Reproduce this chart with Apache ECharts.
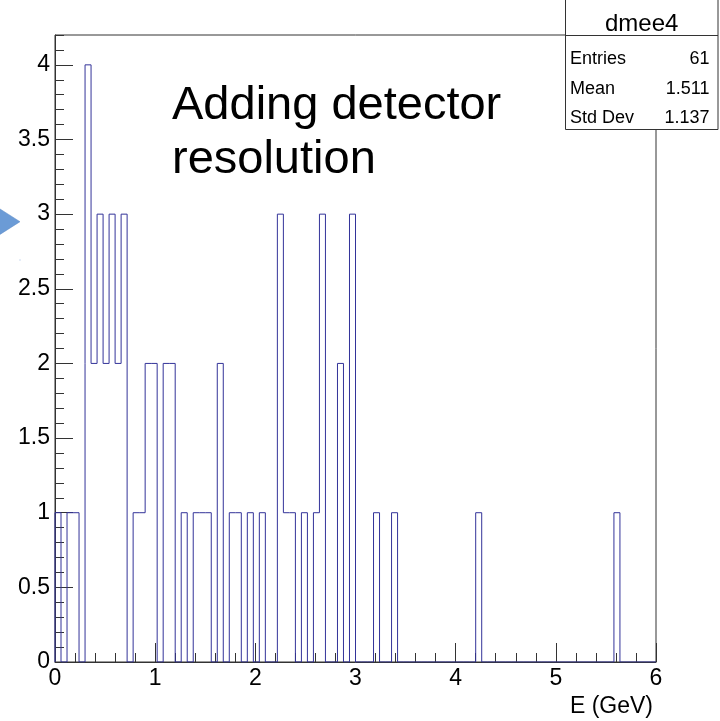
<!DOCTYPE html>
<html>
<head>
<meta charset="utf-8">
<script src="https://cdn.jsdelivr.net/npm/echarts@6/dist/echarts.min.js"></script>
<style>
html,body{margin:0;padding:0;background:#fff;}
#chart{width:720px;height:721px;}
</style>
</head>
<body>
<div id="chart"></div>
<script>
// Histogram "dmee4": 100 bins from 0 to 6 GeV (bin width 0.06)
const binLow = 0;
const binWidth = 0.06;
const counts = [
  1,0,1,1,0,4,2,3,2,3,
  2,3,0,1,1,2,2,0,2,2,
  0,1,0,1,1,1,0,2,0,1,
  1,0,1,0,1,0,0,3,1,1,
  0,1,0,1,3,0,0,2,0,3,
  0,0,0,1,0,0,1,0,0,0,
  0,0,0,0,0,0,0,0,0,0,
  1,0,0,0,0,0,0,0,0,0,
  0,0,0,0,0,0,0,0,0,0,
  0,0,0,1,0,0,0,0,0,0
];
const xTickLabels = ['0','1','2','3','4','5','6'];
const yTickLabels = ['0','0.5','1','1.5','2','2.5','3','3.5','4'];
const statsTitle = 'dmee4';
const statsNames = ['Entries','Mean','Std Dev'];
const statsValues = ['61','1.511','1.137'];
const titleLines = ['Adding detector','resolution'];
const xTitle = 'E (GeV)';

// step outline points
const stepData = [[binLow, 0]];
counts.forEach((c, i) => stepData.push([+(binLow + i * binWidth).toFixed(4), c]));
stepData.push([+(binLow + counts.length * binWidth).toFixed(4), 0]);

const FONT = 'Liberation Sans, Arial, sans-serif';
const axisCol = '#333333';
const chart = echarts.init(document.getElementById('chart'), null, {renderer: 'canvas'});

const option = {
  animation: false,
  backgroundColor: '#ffffff',
  grid: {left: 55, right: 64, top: 35, bottom: 59, show: true, borderColor: axisCol, borderWidth: 1, backgroundColor: 'transparent'},
  xAxis: {
    type: 'value', min: 0, max: 6, interval: 1,
    axisLine: {show: true, lineStyle: {color: axisCol, width: 1}},
    axisTick: {show: true, inside: true, length: 19, lineStyle: {color: axisCol}},
    minorTick: {show: true, splitNumber: 5, length: 9, lineStyle: {color: axisCol}},
    splitLine: {show: false},
    axisLabel: {
      fontFamily: FONT, fontSize: 23, color: '#000', margin: 5,
      formatter: v => { const i = Math.round(v); return Math.abs(v - i) < 1e-6 ? xTickLabels[i] : ''; }
    }
  },
  yAxis: [
    {
      type: 'value', min: 0, max: 4.2, interval: 0.1, position: 'left',
      axisLine: {show: true, lineStyle: {color: axisCol, width: 1}},
      axisTick: {show: true, inside: true, length: 9, lineStyle: {color: axisCol}},
      axisLabel: {show: false},
      splitLine: {show: false}
    },
    {
      type: 'value', min: 0, max: 4.2, interval: 0.5, position: 'left', offset: 0,
      axisLine: {show: false},
      axisTick: {show: true, inside: true, length: 18, lineStyle: {color: axisCol}},
      splitLine: {show: false},
      axisLabel: {
        fontFamily: FONT, fontSize: 23, color: '#000', margin: 5, showMaxLabel: false,
        formatter: v => { const i = Math.round(v * 2); return (Math.abs(v * 2 - i) < 1e-6 && i < yTickLabels.length) ? yTickLabels[i] : ''; }
      }
    }
  ],
  series: [{
    type: 'line', step: 'end', xAxisIndex: 0, yAxisIndex: 0,
    data: stepData, showSymbol: false, symbol: 'none',
    lineStyle: {color: '#333399', width: 1}, z: 3
  }],
  graphic: [
    {type: 'polygon', shape: {points: [[-10, 202.6], [20, 221.7], [-10, 240.8]]}, style: {fill: '#6b9bd6', stroke: '#5a88c4', lineWidth: 0.5}, z: 50},
    {type: 'rect', shape: {x: 19.5, y: 259.5, width: 1, height: 1}, style: {fill: '#9db8e2'}, z: 50},
    {type: 'text', x: 172, y: 106.4, style: {text: titleLines[0], font: '47px ' + FONT, fill: '#000', align: 'left', verticalAlign: 'middle'}, z: 50},
    {type: 'text', x: 172, y: 160.4, style: {text: titleLines[1], font: '47px ' + FONT, fill: '#000', align: 'left', verticalAlign: 'middle'}, z: 50},
    {type: 'text', x: 653, y: 707, style: {text: xTitle, font: '23px ' + FONT, fill: '#000', align: 'right', verticalAlign: 'middle'}, z: 50},
    {type: 'rect', shape: {x: 565.5, y: -1, width: 152.5, height: 130.5}, style: {fill: '#fff', stroke: axisCol, lineWidth: 1}, z: 100},
    {type: 'line', shape: {x1: 565.5, y1: 35.5, x2: 718, y2: 35.5}, style: {stroke: axisCol, lineWidth: 1}, z: 101},
    {type: 'text', x: 641.7, y: 24.6, style: {text: statsTitle, font: '24px ' + FONT, fill: '#000', align: 'center', verticalAlign: 'middle'}, z: 101},
    {type: 'text', x: 570, y: 59.4, style: {text: statsNames[0], font: '18px ' + FONT, fill: '#000', align: 'left', verticalAlign: 'middle'}, z: 101},
    {type: 'text', x: 570, y: 88.7, style: {text: statsNames[1], font: '18px ' + FONT, fill: '#000', align: 'left', verticalAlign: 'middle'}, z: 101},
    {type: 'text', x: 570, y: 118.4, style: {text: statsNames[2], font: '18px ' + FONT, fill: '#000', align: 'left', verticalAlign: 'middle'}, z: 101},
    {type: 'text', x: 709.5, y: 59.4, style: {text: statsValues[0], font: '18px ' + FONT, fill: '#000', align: 'right', verticalAlign: 'middle'}, z: 101},
    {type: 'text', x: 709.5, y: 88.7, style: {text: statsValues[1], font: '18px ' + FONT, fill: '#000', align: 'right', verticalAlign: 'middle'}, z: 101},
    {type: 'text', x: 709.5, y: 118.4, style: {text: statsValues[2], font: '18px ' + FONT, fill: '#000', align: 'right', verticalAlign: 'middle'}, z: 101}
  ]
};
chart.setOption(option);
</script>
</body>
</html>
